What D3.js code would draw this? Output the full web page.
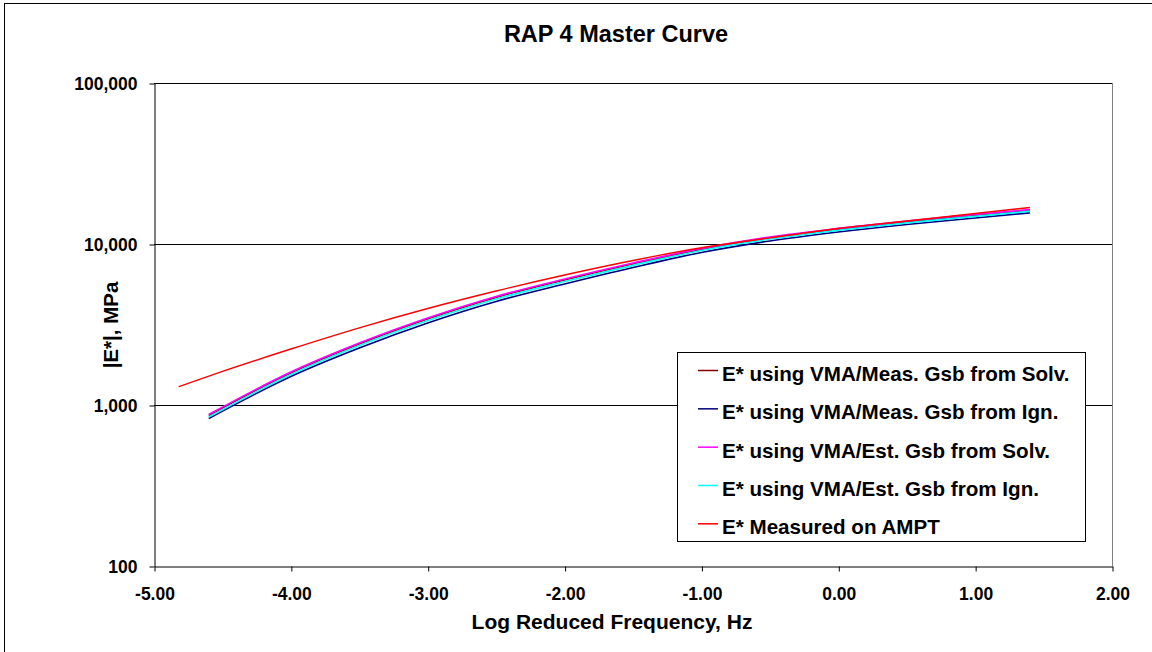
<!DOCTYPE html>
<html>
<head>
<meta charset="utf-8">
<script src="https://cdn.jsdelivr.net/npm/d3@7"></script>
<style>
  html, body { margin: 0; padding: 0; background: #fff; }
  svg { display: block; font-family: Arial, "Liberation Sans", sans-serif; font-weight: bold; }
</style>
</head>
<body>
<svg id="chart" width="1152" height="652"></svg>
<script>
// Log reduced frequency (Hz) at which the predicted master curves are evaluated
const logFreq = [-4.6, -4.0, -3.5, -3.0, -2.5, -2.0, -1.5, -1.0, -0.5, 0.0, 0.5, 1.0, 1.4];

// Predicted |E*| (MPa) for each VMA / Gsb combination
const vmaMeasGsbSolv = [861, 1580, 2393, 3421, 4654, 5975, 7514, 9246, 10896, 12316, 13706, 15038, 16150];
const vmaMeasGsbIgn  = [824, 1503, 2259, 3231, 4394, 5643, 7145, 8855, 10440, 11870, 13220, 14500, 15620];
const vmaEstGsbSolv  = [873, 1603, 2427, 3470, 4720, 6060, 7620, 9380, 11050, 12490, 13900, 15250, 16380];
const vmaEstGsbIgn   = [842, 1547, 2342, 3348, 4553, 5849, 7374, 9112, 10740, 12170, 13540, 14860, 15960];

// Measured master curve from the AMPT
const measuredFreq  = [-4.82, -4.5, -4.0, -3.5, -3.0, -2.5, -2.0, -1.5, -1.0, -0.5, 0.0, 0.5, 1.0, 1.4];
const measuredAMPT  = [1300, 1617, 2227, 3016, 3977, 5107, 6420, 7898, 9471, 10910, 12490, 13900, 15470, 16860];

// Axis ticks
const xTicks = [-5, -4, -3, -2, -1, 0, 1, 2];
const yTicks = [100, 1000, 10000, 100000];

const seriesNames = [
  "E* using VMA/Meas. Gsb from Solv.",
  "E* using VMA/Meas. Gsb from Ign.",
  "E* using VMA/Est. Gsb from Solv.",
  "E* using VMA/Est. Gsb from Ign.",
  "E* Measured on AMPT"
];
const seriesColors = ["#800000", "#000080", "#ff00ff", "#00ffff", "#ff0000"];

const series = [
  { x: logFreq, y: vmaMeasGsbSolv },
  { x: logFreq, y: vmaMeasGsbIgn },
  { x: logFreq, y: vmaEstGsbSolv },
  { x: logFreq, y: vmaEstGsbIgn },
  { x: measuredFreq, y: measuredAMPT }
].map((s, i) => ({
  name: seriesNames[i],
  color: seriesColors[i],
  points: s.x.map((v, j) => [v, s.y[j]])
}));

const svg = d3.select("#chart");

// outer chart frame
svg.append("rect")
  .attr("x", 4.5).attr("y", 3.5)
  .attr("width", 1170).attr("height", 670)
  .attr("fill", "#fff").attr("stroke", "#000").attr("stroke-width", 1);

const plot = { left: 154, right: 1112, top: 83, bottom: 566 };

const x = d3.scaleLinear().domain([-5, 2]).range([plot.left, plot.right]);
const y = d3.scaleLog().domain([100, 100000]).range([plot.bottom, plot.top]);

// title
svg.append("text")
  .attr("x", 616).attr("y", 42)
  .attr("text-anchor", "middle")
  .attr("font-size", "23.5px")
  .text("RAP 4 Master Curve");

// horizontal gridlines
svg.append("g")
  .selectAll("line")
  .data(yTicks.slice(1))
  .join("line")
  .attr("x1", plot.left).attr("x2", plot.right)
  .attr("y1", d => Math.round(y(d)) + 0.5).attr("y2", d => Math.round(y(d)) + 0.5)
  .attr("stroke", "#000").attr("stroke-width", 1);

// right edge of plot area
svg.append("line")
  .attr("x1", plot.right + 0.5).attr("x2", plot.right + 0.5)
  .attr("y1", plot.top).attr("y2", plot.bottom)
  .attr("stroke", "#808080").attr("stroke-width", 1);

// axes (plain hyphen for negative numbers)
const fmtX = v => d3.format(".2f")(v).replace("\u2212", "-");

const yAxis = d3.axisLeft(y)
  .tickValues(yTicks)
  .tickFormat(d3.format(","))
  .tickSize(5).tickSizeOuter(0).tickPadding(12);

const xAxis = d3.axisBottom(x)
  .tickValues(xTicks)
  .tickFormat(fmtX)
  .tickSize(5).tickSizeOuter(0).tickPadding(16.5);

const gy = svg.append("g")
  .attr("transform", `translate(${plot.left + 0.5},0.5)`)
  .call(yAxis);
const gx = svg.append("g")
  .attr("transform", `translate(0.5,${plot.bottom + 0.5})`)
  .call(xAxis);

[gx, gy].forEach(g => {
  g.select(".domain").attr("stroke", "#000");
  g.selectAll(".tick line").attr("stroke", "#000");
  g.selectAll(".tick text")
    .attr("fill", "#000")
    .attr("font-size", "17.5px")
    .attr("font-weight", "bold")
    .attr("font-family", "Arial, 'Liberation Sans', sans-serif");
});

// axis titles
svg.append("text")
  .attr("x", 612).attr("y", 629)
  .attr("text-anchor", "middle")
  .attr("font-size", "21px")
  .text("Log Reduced Frequency, Hz");

svg.append("text")
  .attr("transform", "translate(118,325) rotate(-90)")
  .attr("text-anchor", "middle")
  .attr("font-size", "20.5px")
  .text("|E*|, MPa");

// curves
const line = d3.line()
  .x(d => x(d[0]))
  .y(d => y(d[1]))
  .curve(d3.curveMonotoneX);

svg.append("g")
  .selectAll("path")
  .data(series)
  .join("path")
  .attr("d", d => line(d.points))
  .attr("fill", "none")
  .attr("stroke", d => d.color)
  .attr("stroke-width", (d, i) => i === 4 ? 1.4 : 1.7)
  .attr("stroke-linejoin", "round");

// legend
const legend = svg.append("g");
legend.append("rect")
  .attr("x", 677.5).attr("y", 352.5)
  .attr("width", 408).attr("height", 189)
  .attr("fill", "#fff").attr("stroke", "#000").attr("stroke-width", 1);

const rows = legend.selectAll("g.row")
  .data(series)
  .join("g")
  .attr("class", "row")
  .attr("transform", (d, i) => `translate(0,${370.5 + i * 38.33})`);

rows.append("line")
  .attr("x1", 698).attr("x2", 718)
  .attr("y1", 0).attr("y2", 0)
  .attr("stroke", d => d.color).attr("stroke-width", 1.5);

rows.append("text")
  .attr("x", 722).attr("y", 10.5)
  .attr("font-size", "20.6px")
  .attr("fill", "#000")
  .text(d => d.name);
</script>
</body>
</html>
